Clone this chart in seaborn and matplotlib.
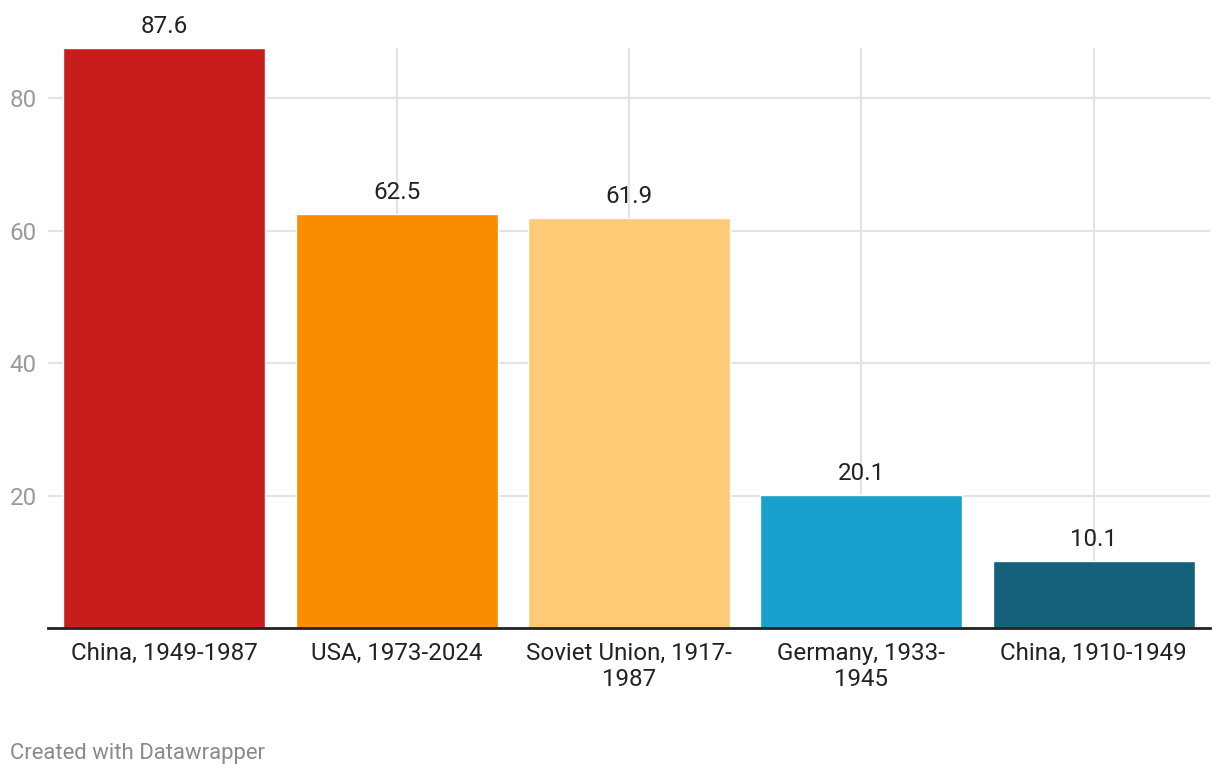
import matplotlib.pyplot as plt
import seaborn as sns
import pandas as pd

# dane
labels = ['China, 1949-1987', 'USA, 1973-2024', 'Soviet Union, 1917-\n1987',
          'Germany, 1933-\n1945', 'China, 1910-1949']
values = [87.6, 62.5, 61.9, 20.1, 10.1]
colors = ['#c71e1d', '#fa8c00', '#ffca76', '#18a1cd', '#15607a']
y_ticks = [20, 40, 60, 80]

df = pd.DataFrame({'label': labels, 'value': values})

sns.set_style('white')
plt.rcParams['font.family'] = ['Roboto', 'DejaVu Sans']

fig = plt.figure(figsize=(12.2, 7.78), dpi=100)
ax = fig.add_axes([48 / 1220, 150 / 778, 1162 / 1220, 580 / 778])

sns.barplot(x='label', y='value', data=df, hue='label', palette=colors,
            legend=False, width=0.87, saturation=1, ax=ax, zorder=3)

ax.set_xlim(-0.5, 4.5)
ax.set_ylim(0, 87.6)
ax.set_yticks(y_ticks)
ax.set_xlabel('')
ax.set_ylabel('')

# siatka
ax.grid(True, axis='both', color='#e3e3e3', linewidth=1.5, zorder=0)
ax.set_axisbelow(True)

for s in ['top', 'right', 'left']:
    ax.spines[s].set_visible(False)
ax.spines['bottom'].set_color('#222222')
ax.spines['bottom'].set_linewidth(2)
ax.spines['bottom'].set_zorder(5)

ax.tick_params(axis='y', length=0, pad=8, labelsize=17.4, labelcolor='#9a9a9a')
ax.tick_params(axis='x', length=0, pad=10, labelsize=17.4, labelcolor='#222222')
for t in ax.get_xticklabels():
    t.set_linespacing(1.15)

# etykiety wartosci
for i, v in enumerate(values):
    ax.annotate(f'{v}', (i, v), xytext=(0, 15.5), textcoords='offset points',
                ha='center', va='center', fontsize=17.4, color='#222222')

fig.text(10 / 1220, 1 - 754 / 778, 'Created with Datawrapper', fontsize=15.9,
         color='#8a8a8a', ha='left', va='center')

plt.savefig('out.png', dpi=100)
